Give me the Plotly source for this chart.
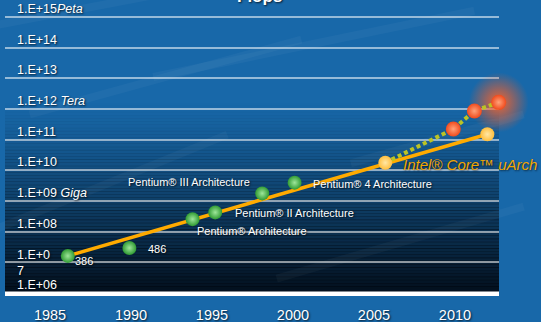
import plotly.graph_objects as go
import numpy as np

# ---------------- data ----------------
chip_names = ["386", "486", "Pentium® Architecture", "Pentium® II Architecture",
              "Pentium® III Architecture", "Pentium® 4 Architecture"]
chip_years = [1986.1, 1989.9, 1993.8, 1995.2, 1998.1, 2000.1]
chip_log_flops = [7.21, 7.47, 8.41, 8.63, 9.25, 9.60]

core_years = [2005.7, 2012.0]
core_log_flops = [10.25, 11.18]

multi_years = [2005.7, 2009.9, 2011.2, 2012.7]
multi_log_flops = [10.25, 11.35, 11.94, 12.22]

trend_years = [1986.1, 2012.0]
trend_log_flops = [7.21, 11.18]

year_ticks = [1985, 1990, 1995, 2000, 2005, 2010]
flop_exponents = [6, 7, 8, 9, 10, 11, 12, 13, 14, 15]
flop_tick_text = ["1.E+06", "1.E+0<br>7", "1.E+08", "1.E+09 <i>Giga</i>", "1.E+10",
                  "1.E+11", "1.E+12 <i>Tera</i>", "1.E+13", "1.E+14", "1.E+15<i>Peta</i>"]

title_text = "Flops"
core_label = "Intel® Core™ uArch"

# ---------------- figure ----------------
FONT = "Liberation Sans, Arial, sans-serif"
SHADOW = "1px 1px 2px rgba(0,0,0,0.75)"

def pw(vals):
    return [10 ** v for v in vals]

fig = go.Figure()

# glow around the last point
fig.add_trace(go.Scatter(
    x=[multi_years[-1]], y=pw([multi_log_flops[-1]]), mode="markers",
    marker=dict(size=60, color="rgba(255,90,30,0)",
                gradient=dict(type="radial", color="rgba(255,100,40,0.95)"),
                line=dict(width=0)),
    hoverinfo="skip", cliponaxis=False, showlegend=False))

# trend line
fig.add_trace(go.Scatter(
    x=trend_years, y=pw(trend_log_flops), mode="lines",
    line=dict(color="#ffab00", width=3.5), cliponaxis=False, showlegend=False))

# dashed multi-core line
fig.add_trace(go.Scatter(
    x=multi_years, y=pw(multi_log_flops), mode="lines",
    line=dict(color="#bcc424", width=4, dash="4px,3px"), cliponaxis=False, showlegend=False))

# chips
fig.add_trace(go.Scatter(
    x=chip_years, y=pw(chip_log_flops), mode="markers",
    marker=dict(size=14, color="#2f9a32",
                gradient=dict(type="radial", color="#9ee69a"), line=dict(width=0)),
    cliponaxis=False, showlegend=False))

# orange multi-core points
fig.add_trace(go.Scatter(
    x=multi_years[1:], y=pw(multi_log_flops[1:]), mode="markers",
    marker=dict(size=15, color="#f04a1c",
                gradient=dict(type="radial", color="#ffa27a"), line=dict(width=0)),
    cliponaxis=False, showlegend=False))

# core points
fig.add_trace(go.Scatter(
    x=core_years, y=pw(core_log_flops), mode="markers",
    marker=dict(size=14, color="#ffbe3c",
                gradient=dict(type="radial", color="#ffe7a6"), line=dict(width=0)),
    cliponaxis=False, showlegend=False))

annotations = []

# y labels placed on the log axis
for e, t in zip(flop_exponents, flop_tick_text):
    annotations.append(dict(
        x=0, xref="paper", y=e, yref="y", text=t, showarrow=False,
        xanchor="left", yanchor="middle", xshift=10,
        yshift=(-1 if "<br>" in t else 8),
        font=dict(family=FONT, size=12.5, color="white", shadow=SHADOW),
        align="left"))

# chip labels, offset from their points
label_offsets = [(5, -5, "left"), (17, -1, "left"), (2, -12, "left"),
                 (18, -1, "left"), (-10, 11, "right"), (16, -1, "left")]
for name, xv, yv, (dx, dy, anc) in zip(chip_names, chip_years, chip_log_flops, label_offsets):
    annotations.append(dict(
        x=xv, y=yv, xref="x", yref="y", text=name, showarrow=False,
        xanchor=anc, yanchor="middle", xshift=dx, yshift=dy,
        font=dict(family=FONT, size=11, color="white", shadow=SHADOW)))

annotations.append(dict(
    x=core_years[0], y=core_log_flops[0], xref="x", yref="y",
    text="<i>" + core_label + "</i>", showarrow=False,
    xanchor="left", yanchor="middle", xshift=16, yshift=-2,
    font=dict(family=FONT, size=15, color="#f2a600", shadow="1px 1px 2px rgba(0,0,0,0.6)")))

annotations.append(dict(
    x=0.516, xref="paper", y=1, yref="paper", text="<b>" + title_text + "</b>",
    showarrow=False, xanchor="center", yanchor="bottom", yshift=-3,
    font=dict(family=FONT, size=17, color="white", shadow=SHADOW)))

# dark gradient panel behind the plot + faint streaks on the background
shapes = []
n = 60
top_frac = 0.66
for i in range(n):
    y0 = top_frac * i / n
    y1 = top_frac * (i + 1) / n
    t = 1 - (y0 + y1) / 2 / top_frac   # 1 at bottom, 0 at top of the panel
    a = 0.95 * t ** 1.2
    shapes.append(dict(type="rect", xref="paper", yref="paper", x0=0, x1=1,
                       y0=y0, y1=y1 + 0.002, fillcolor="rgba(2,10,20,%.3f)" % a,
                       line=dict(width=0), layer="below"))

streaks = [(-0.05, 0.20, 0.45, 0.55), (0.30, 0.75, 0.95, 0.98), (0.55, 0.05, 1.05, 0.30),
           (0.70, 0.45, 1.05, 0.62), (-0.05, 0.92, 0.35, 1.05), (0.05, 0.62, 0.60, 0.88)]
for x0, y0, x1, y1 in streaks:
    shapes.append(dict(type="line", xref="paper", yref="paper", x0=x0, y0=y0, x1=x1, y1=y1,
                       line=dict(color="rgba(255,255,255,0.035)", width=8), layer="below"))

# bright white baseline along the bottom of the plot area
shapes.append(dict(type="line", xref="paper", yref="paper", x0=0, x1=1, y0=0, y1=0,
                   line=dict(color="white", width=3), layer="above"))

fig.update_layout(
    width=541, height=322,
    margin=dict(l=5, r=42, t=5, b=29, autoexpand=False),
    paper_bgcolor="#1868a9",
    plot_bgcolor="rgba(0,0,0,0)",
    showlegend=False,
    annotations=annotations,
    shapes=shapes,
    xaxis=dict(range=[1982.22, 2012.72], tickvals=year_ticks, showgrid=False, zeroline=False,
               showline=True, linecolor="white", linewidth=3, automargin=False,
               ticks="outside", ticklen=7, tickcolor="rgba(0,0,0,0)",
               tickfont=dict(family=FONT, size=14.5, color="white", shadow=SHADOW)),
    yaxis=dict(type="log", range=[6, 15.396], tickvals=pw(flop_exponents), automargin=False,
               showticklabels=False, showgrid=True, gridcolor="rgba(255,255,255,0.55)",
               gridwidth=1.5, zeroline=False, showline=False, ticks=""),
)

fig.write_html("out.html", config={"displayModeBar": False},
               post_script="document.body.style.margin='0';document.body.style.overflow='hidden';")
